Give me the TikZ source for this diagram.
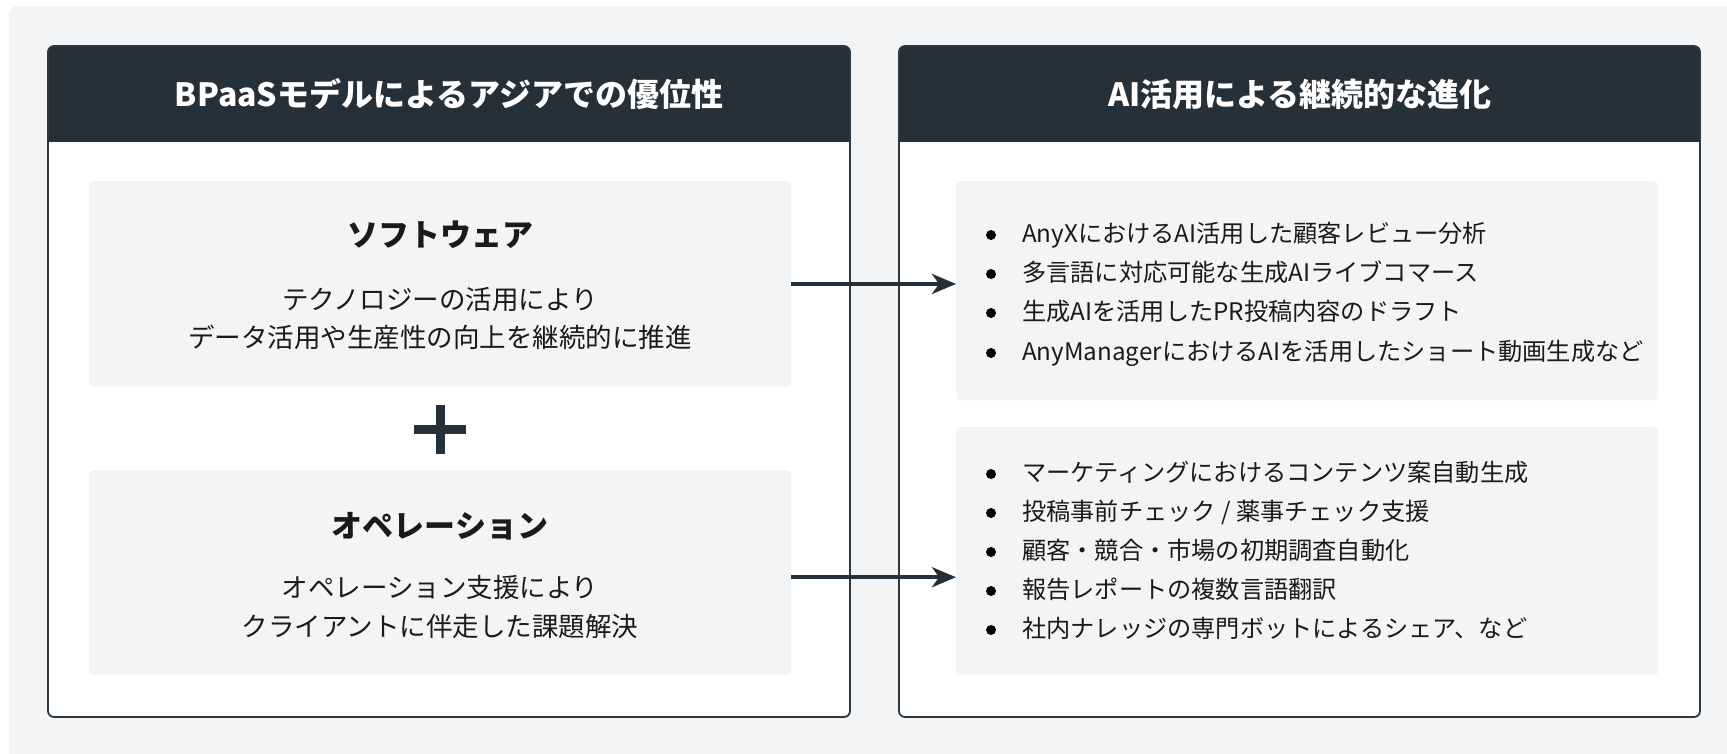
\documentclass[tikz,border=0pt]{standalone}
\usepackage{fontspec}
\setmainfont{Noto Sans CJK JP}
\usetikzlibrary{arrows.meta}
\definecolor{bgc}{HTML}{F3F4F6}
\definecolor{darkc}{HTML}{263039}
\definecolor{linec}{HTML}{2E3842}
\definecolor{txtc}{HTML}{1A1A1A}
\begin{document}
\begin{tikzpicture}[x=1pt,y=-1pt,
  subbox/.style={fill=bgc, rounded corners=4, inner sep=0pt, anchor=north west},
  hdtext/.style={text=white, font=\fontsize{32}{38}\selectfont\bfseries, inner sep=0pt, anchor=base, yshift=-9.6pt},
  ttl/.style={text=txtc, font=\fontsize{31}{37}\selectfont\bfseries, inner sep=0pt, anchor=base, yshift=-9.3pt},
  body/.style={text=txtc, font=\fontsize{26.5}{32}\selectfont, inner sep=0pt, anchor=base, yshift=-7.9pt},
  item/.style={text=txtc, font=\fontsize{24.2}{30}\selectfont, inner sep=0pt, anchor=base west, yshift=-7.3pt},
  dotm/.style={circle, fill=black, inner sep=0pt, minimum size=10pt},
  arr/.style={draw=darkc, line width=4pt, -{Stealth[length=24pt, width=20pt, inset=7pt]}}
]
\useasboundingbox (0,0) rectangle (1727,753);
\fill[white] (0,0) rectangle (1727,753);
\begin{scope}
  \clip (0,0) rectangle (1727,753);
  \fill[bgc, rounded corners=8] (9,6) rectangle (1760,790);
\end{scope}

% panels
\fill[white, rounded corners=6] (48,46) rectangle (850,717);
\fill[white, rounded corners=6] (899,46) rectangle (1700,717);
\begin{scope}
  \clip (40,40) rectangle (1710,141);
  \fill[darkc, rounded corners=6] (48,46) rectangle (850,170);
  \fill[darkc, rounded corners=6] (899,46) rectangle (1700,170);
\end{scope}
\draw[linec, line width=1.8pt, rounded corners=6] (48,46) rectangle (850,717);
\draw[linec, line width=1.8pt, rounded corners=6] (899,46) rectangle (1700,717);

\node[hdtext] (h1) at (449,97) {BPaaSモデルによるアジアでの優位性};
\node[hdtext] (h2) at (1300,97) {AI活用による継続的な進化};

% left sub boxes
\node[subbox, minimum width=702pt, minimum height=205.5pt] (sw) at (89,181) {};
\node[subbox, minimum width=702pt, minimum height=205pt] (op) at (89,470) {};

\node[ttl] (swt) at (440,237) {ソフトウェア};
\node[body] (sw1) at (440,301.5) {テクノロジーの活用により};
\node[body] (sw2) at (440,340) {データ活用や生産性の向上を継続的に推進};

\node[ttl] (opt) at (440,528.5) {オペレーション};
\node[body] (op1) at (440,590) {オペレーション支援により};
\node[body] (op2) at (440,629) {クライアントに伴走した課題解決};

% plus sign
\fill[darkc] (414,425) rectangle (466,434);
\fill[darkc] (435.5,405) rectangle (444.5,454);

% right sub boxes
\node[subbox, minimum width=702pt, minimum height=219pt] (b1) at (956,181) {};
\node[subbox, minimum width=702pt, minimum height=248pt] (b2) at (956,427) {};

\node[dotm] (d11) at (991,235) {};
\node[dotm] (d12) at (991,274) {};
\node[dotm] (d13) at (991,313) {};
\node[dotm] (d14) at (991,353) {};
\node[item] (t11) at (1022,235) {AnyXにおけるAI活用した顧客レビュー分析};
\node[item] (t12) at (1022,274) {多言語に対応可能な生成AIライブコマース};
\node[item] (t13) at (1022,313) {生成AIを活用したPR投稿内容のドラフト};
\node[item] (t14) at (1022,353) {AnyManagerにおけるAIを活用したショート動画生成など};

\node[dotm] (d21) at (991,474) {};
\node[dotm] (d22) at (991,513) {};
\node[dotm] (d23) at (991,552) {};
\node[dotm] (d24) at (991,591) {};
\node[dotm] (d25) at (991,630) {};
\node[item] (t21) at (1022,474) {マーケティングにおけるコンテンツ案自動生成};
\node[item] (t22) at (1022,513) {投稿事前チェック / 薬事チェック支援};
\node[item] (t23) at (1022,552) {顧客・競合・市場の初期調査自動化};
\node[item] (t24) at (1022,591) {報告レポートの複数言語翻訳};
\node[item] (t25) at (1022,630) {社内ナレッジの専門ボットによるシェア、など};

% arrows
\coordinate (a1) at (sw.east);
\coordinate (a2) at ([yshift=-4.5pt]op.east);
\draw[arr] (a1) -- (a1 -| b1.west);
\draw[arr] (a2) -- (a2 -| b2.west);
\end{tikzpicture}
\end{document}
